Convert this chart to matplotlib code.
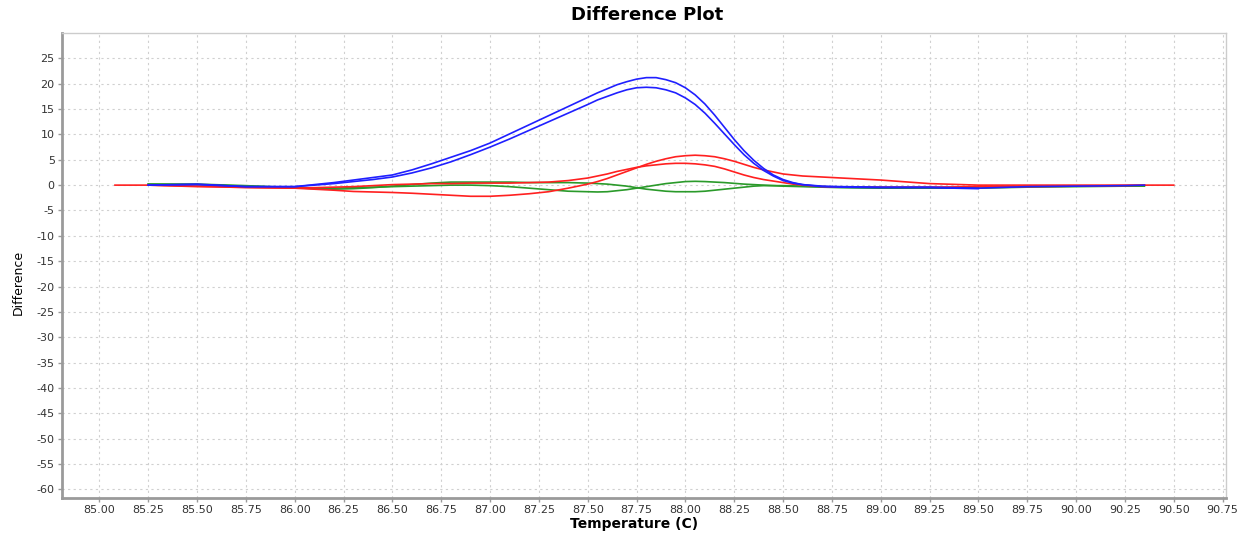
import numpy as np
import matplotlib
matplotlib.use('Agg')
import matplotlib.pyplot as plt

nan = np.nan

# temperature grid (C) shared by all traces, nan where a trace has no point
temp = [85.08, 85.25, 85.50, 85.75,
        86.0, 86.1, 86.2, 86.3, 86.4, 86.5, 86.6, 86.7, 86.8, 86.9,
        87.0, 87.1, 87.2, 87.3, 87.4,
        87.50, 87.55, 87.60, 87.65, 87.70, 87.75, 87.80, 87.85, 87.90, 87.95,
        88.00, 88.05, 88.10, 88.15, 88.20, 88.25, 88.30, 88.35, 88.40, 88.45,
        88.50, 88.55, 88.60,
        88.7, 88.8, 89.00, 89.25, 89.50, 89.75, 90.00, 90.25, 90.35, 90.50]

blue_hi = [nan, 0.0, 0.2, -0.3,
           -0.3, 0.1, 0.5, 1.0, 1.5, 2.0, 3.0, 4.2, 5.5, 6.8,
           8.3, 10.1, 11.9, 13.7, 15.5,
           17.3, 18.2, 19.0, 19.8, 20.4, 20.9, 21.2, 21.2, 20.8, 20.2,
           19.2, 17.8, 16.0, 13.8, 11.4, 9.0, 6.8, 4.9, 3.3, 2.0,
           1.1, 0.5, 0.1,
           -0.2, -0.3, -0.4, -0.4, -0.6, -0.3, -0.2, -0.1, 0.0, nan]

blue_lo = [nan, 0.0, 0.1, -0.3,
           -0.3, 0.0, 0.3, 0.7, 1.1, 1.6, 2.4, 3.4, 4.6, 6.0,
           7.5, 9.1, 10.8, 12.5, 14.2,
           15.9, 16.8, 17.5, 18.2, 18.8, 19.2, 19.3, 19.2, 18.8, 18.2,
           17.2, 15.9, 14.2, 12.2, 10.1, 8.0, 6.0, 4.3, 2.9, 1.8,
           0.9, 0.4, 0.1,
           -0.3, -0.4, -0.5, -0.5, -0.7, nan, nan, nan, nan, nan]

red_a = [0.0, 0.0, -0.3, -0.4,
         -0.6, -0.8, -1.0, -1.25, -1.35, -1.45, -1.6, -1.8, -2.0, -2.2,
         -2.2, -2.0, -1.7, -1.3, -0.6,
         0.2, 0.7, 1.3, 2.0, 2.7, 3.4, 4.1, 4.7, 5.2, 5.6,
         5.8, 5.9, 5.8, 5.6, 5.2, 4.7, 4.1, 3.5, 3.0, 2.6,
         2.2, 2.0, 1.8,
         1.6, 1.4, 1.0, 0.3, 0.0, 0.0, 0.0, 0.0, 0.0, 0.0]

red_b = [nan, 0.0, -0.2, -0.5,
         -0.6, -0.5, -0.4, -0.3, -0.1, 0.1, 0.2, 0.3, 0.3, 0.4,
         0.4, 0.4, 0.5, 0.6, 0.9,
         1.4, 1.8, 2.2, 2.7, 3.1, 3.5, 3.8, 4.0, 4.2, 4.3,
         4.3, 4.2, 4.0, 3.7, 3.2, 2.6, 2.0, 1.5, 1.1, 0.8,
         0.5, 0.2, 0.0,
         -0.3, -0.4, -0.4, -0.4, -0.3, -0.3, -0.2, -0.1, 0.0, nan]

green_a = [nan, 0.2, 0.2, -0.1,
           -0.5, -0.7, -0.8, -0.7, -0.5, -0.2, 0.1, 0.4, 0.6, 0.6,
           0.6, 0.6, 0.5, 0.5, 0.5,
           0.4, 0.3, 0.2, 0.0, -0.2, -0.5, -0.8, -1.0, -1.2, -1.3,
           -1.3, -1.3, -1.2, -1.0, -0.8, -0.6, -0.4, -0.2, -0.1, -0.1,
           -0.1, -0.15, -0.2,
           -0.3, -0.4, -0.5, -0.5, -0.6, -0.4, -0.3, -0.2, -0.2, nan]

green_b = [nan, 0.2, 0.1, -0.2,
           -0.5, -0.6, -0.6, -0.5, -0.4, -0.3, -0.2, -0.1, 0.0, 0.0,
           -0.1, -0.3, -0.6, -0.9, -1.2,
           -1.3, -1.35, -1.3, -1.1, -0.9, -0.6, -0.3, 0.0, 0.3, 0.5,
           0.7, 0.75, 0.7, 0.6, 0.5, 0.35, 0.2, 0.1, 0.0, -0.1,
           -0.2, -0.25, -0.3,
           -0.4, -0.5, -0.6, -0.6, -0.6, nan, nan, nan, nan, nan]

x_ticks = np.arange(85.0, 90.76, 0.25)
y_ticks = np.arange(-60, 26, 5)


def main():
    fig = plt.figure(figsize=(12.43, 5.35), dpi=100)
    ax = fig.add_axes([0.0496, 0.0692, 0.9365, 0.8691])

    t = np.array(temp)
    for ys in [green_a, green_b]:
        ax.plot(t, ys, color='#2a9a2a', lw=1.2)
    for ys in [red_a, red_b]:
        ax.plot(t, ys, color='#ff2020', lw=1.2)
    for ys in [blue_hi, blue_lo]:
        ax.plot(t, ys, color='#2020ff', lw=1.2)

    ax.set_xlim(84.807, 90.766)
    ax.set_ylim(-61.7, 30.0)
    ax.set_xticks(x_ticks)
    ax.set_xticklabels([f'{v:.2f}' for v in x_ticks])
    ax.set_yticks(y_ticks)
    ax.set_yticklabels([f'{v}' for v in y_ticks])

    ax.grid(True, color='#d0d0d0', linestyle=(0, (2, 3)), lw=0.8)
    ax.set_axisbelow(True)

    for s in ['left', 'bottom']:
        ax.spines[s].set_color('#9a9a9a')
        ax.spines[s].set_linewidth(2)
    for s in ['top', 'right']:
        ax.spines[s].set_color('#cccccc')
        ax.spines[s].set_linewidth(1)

    ax.tick_params(axis='both', length=3, width=1, color='#9a9a9a',
                   labelsize=8, labelcolor='#333333', pad=2)

    fig.text(0.521, 0.972, 'Difference Plot', ha='center', va='center',
             fontsize=13, fontweight='bold')
    fig.text(0.51, 0.021, 'Temperature (C)', ha='center', va='center',
             fontsize=10, fontweight='bold')
    fig.text(0.0145, 0.473, 'Difference', ha='center', va='center',
             rotation=90, fontsize=9)

    fig.savefig('out.png', dpi=100)


if __name__ == "__main__":
    main()
